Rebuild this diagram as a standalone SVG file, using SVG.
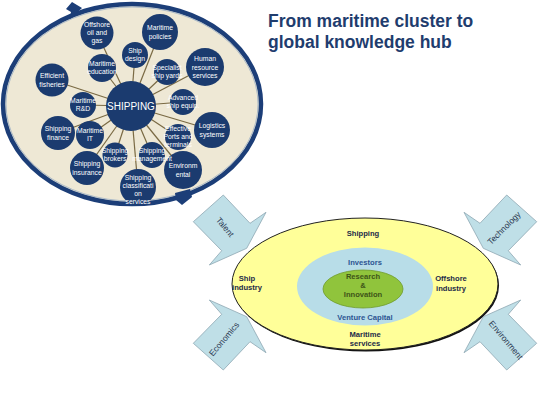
<svg xmlns="http://www.w3.org/2000/svg" width="538" height="407" viewBox="0 0 538 407">
<defs>
<style>
.bub{fill:#1b3b6f}
.bt{fill:#ffffff;font-family:"Liberation Sans",Arial,sans-serif;font-size:6.8px;text-anchor:middle}
.spoke{stroke:#7a6a44;stroke-width:1.2}
.arr{fill:#bfdfe7;stroke:#8ea7b3;stroke-width:0.8}
.at{fill:#2c3a52;font-family:"Liberation Sans",Arial,sans-serif;font-size:8.5px;text-anchor:middle}
.rt{font-family:"Liberation Sans",Arial,sans-serif;font-size:7.6px;font-weight:bold;text-anchor:middle}
</style>
<polygon id="arrowShape" points="193.3,221.7 223.3,195 250,223.3 266,212.3 246.7,248.3 209.3,265 221.7,250.7"/>
</defs>
<rect width="538" height="407" fill="#ffffff"/>

<!-- title -->
<g id="title" fill="#1f3d6e" font-family="Liberation Sans,Arial,sans-serif" font-size="17.5" font-weight="bold">
<text x="268" y="27">From maritime cluster to</text>
<text x="268" y="48">global knowledge hub</text>
</g>

<!-- left cluster ellipse -->
<g id="cluster">
<ellipse cx="132" cy="104" rx="129" ry="100" fill="#eee8d5" stroke="#1c3e78" stroke-width="4.5"/>
<ellipse cx="132" cy="104" rx="126" ry="97" fill="none" stroke="#7f9cc0" stroke-width="0.6"/>
<polygon points="66,9 72,2 82,8 70,19 71,12" fill="#1c3e78"/>
<polygon points="175,193 190,189 192,197 182,205 176,200" fill="#1c3e78"/>
</g>

<g id="connectors">
<line class="spoke" x1="131" y1="106" x2="97" y2="33"/>
<line class="spoke" x1="131" y1="106" x2="160" y2="32"/>
<line class="spoke" x1="131" y1="106" x2="135" y2="55"/>
<line class="spoke" x1="131" y1="106" x2="102" y2="68"/>
<line class="spoke" x1="131" y1="106" x2="52" y2="80"/>
<line class="spoke" x1="131" y1="106" x2="205" y2="67"/>
<line class="spoke" x1="131" y1="106" x2="167" y2="72"/>
<line class="spoke" x1="131" y1="106" x2="183" y2="102"/>
<line class="spoke" x1="131" y1="106" x2="212" y2="130"/>
<line class="spoke" x1="131" y1="106" x2="178" y2="137"/>
<line class="spoke" x1="131" y1="106" x2="183" y2="170"/>
<line class="spoke" x1="131" y1="106" x2="152" y2="155"/>
<line class="spoke" x1="131" y1="106" x2="138" y2="187"/>
<line class="spoke" x1="131" y1="106" x2="115" y2="155"/>
<line class="spoke" x1="131" y1="106" x2="87" y2="168"/>
<line class="spoke" x1="131" y1="106" x2="90" y2="135"/>
<line class="spoke" x1="131" y1="106" x2="58" y2="133"/>
<line class="spoke" x1="131" y1="106" x2="83" y2="105"/>
</g>

<g id="n-offshore"><circle class="bub" cx="97" cy="33" r="16.5"/><text class="bt" x="97" y="27">Offshore</text><text class="bt" x="97" y="35">oil and</text><text class="bt" x="97" y="43">gas</text></g>
<g id="n-policies"><circle class="bub" cx="160" cy="32" r="18"/><text class="bt" x="160" y="30">Maritime</text><text class="bt" x="160" y="38.5">policies</text></g>
<g id="n-shipdesign"><circle class="bub" cx="135" cy="55" r="13"/><text class="bt" x="135" y="53">Ship</text><text class="bt" x="135" y="61">design</text></g>
<g id="n-education"><circle class="bub" cx="102" cy="68" r="14"/><text class="bt" x="102" y="66">Maritime</text><text class="bt" x="102" y="74">education</text></g>
<g id="n-fisheries"><circle class="bub" cx="52" cy="80" r="16.5"/><text class="bt" x="52" y="78">Efficient</text><text class="bt" x="52" y="86.5">fisheries</text></g>
<g id="n-hr"><circle class="bub" cx="205" cy="67" r="19"/><text class="bt" x="205" y="61">Human</text><text class="bt" x="205" y="69.5">resource</text><text class="bt" x="205" y="78">services</text></g>
<g id="n-yards"><circle class="bub" cx="167" cy="72" r="13"/><text class="bt" x="167" y="70">Specialist</text><text class="bt" x="167" y="78">ship yards</text></g>
<g id="n-equipment"><circle class="bub" cx="183" cy="102" r="13"/><text class="bt" x="183" y="100">Advanced</text><text class="bt" x="183" y="108">ship equip.</text></g>
<g id="n-logistics"><circle class="bub" cx="212" cy="130" r="18"/><text class="bt" x="212" y="128">Logistics</text><text class="bt" x="212" y="136.5">systems</text></g>
<g id="n-ports"><circle class="bub" cx="178" cy="137" r="13"/><text class="bt" x="178" y="131">Effective</text><text class="bt" x="178" y="139">Ports and</text><text class="bt" x="178" y="147">terminals</text></g>
<g id="n-environmental"><circle class="bub" cx="183" cy="170" r="19"/><text class="bt" x="183" y="168">Environm</text><text class="bt" x="183" y="176.5">ental</text></g>
<g id="n-management"><circle class="bub" cx="152" cy="155" r="13"/><text class="bt" x="152" y="153">Shipping</text><text class="bt" x="152" y="161">management</text></g>
<g id="n-classification"><circle class="bub" cx="138" cy="187" r="18"/><text class="bt" x="138" y="180">Shipping</text><text class="bt" x="138" y="188">classificati</text><text class="bt" x="138" y="196">on</text><text class="bt" x="138" y="204">services</text></g>
<g id="n-brokers"><circle class="bub" cx="115" cy="155" r="12.5"/><text class="bt" x="115" y="153">Shipping</text><text class="bt" x="115" y="161">brokers</text></g>
<g id="n-insurance"><circle class="bub" cx="87" cy="168" r="17"/><text class="bt" x="87" y="166">Shipping</text><text class="bt" x="87" y="174.5">insurance</text></g>
<g id="n-it"><circle class="bub" cx="90" cy="135" r="14"/><text class="bt" x="90" y="133">Maritime</text><text class="bt" x="90" y="141">IT</text></g>
<g id="n-finance"><circle class="bub" cx="58" cy="133" r="17"/><text class="bt" x="58" y="131">Shipping</text><text class="bt" x="58" y="139.5">finance</text></g>
<g id="n-rd"><circle class="bub" cx="83" cy="105" r="13"/><text class="bt" x="83" y="103">Maritime</text><text class="bt" x="83" y="111">R&amp;D</text></g>
<g id="n-shipping"><circle class="bub" cx="131" cy="106" r="25"/><text x="131" y="109.5" fill="#ffffff" font-family="Liberation Sans,Arial,sans-serif" font-size="10" text-anchor="middle">SHIPPING</text></g>

<!-- knowledge hub -->
<g id="hub">
<ellipse cx="366" cy="285.5" rx="133" ry="66" fill="#111111"/>
<ellipse cx="365" cy="284" rx="133" ry="66" fill="#ffff99" stroke="#222222" stroke-width="1"/>
<ellipse cx="365" cy="286.5" rx="68" ry="39" fill="#b8dde8"/>
<ellipse cx="363" cy="289" rx="40" ry="19" fill="#90c43c" stroke="#6f9a2a" stroke-width="0.8"/>
<text class="rt" x="363" y="236" fill="#1d2a48">Shipping</text>
<text class="rt" x="365" y="265" fill="#2d5592">Investors</text>
<text class="rt" x="363" y="279" fill="#3e5418">Research</text>
<text class="rt" x="363" y="288" fill="#3e5418">&amp;</text>
<text class="rt" x="363" y="297" fill="#3e5418">Innovation</text>
<text class="rt" x="365" y="320" fill="#2d5592">Venture Capital</text>
<text class="rt" x="365" y="337" fill="#1d2a48">Maritime</text>
<text class="rt" x="365" y="346" fill="#1d2a48">services</text>
<text class="rt" x="247" y="281" fill="#1d2a48" text-anchor="start">Ship</text>
<text class="rt" x="247" y="290" fill="#1d2a48" text-anchor="start">industry</text>
<text class="rt" x="451" y="281" fill="#1d2a48" text-anchor="start">Offshore</text>
<text class="rt" x="451" y="291" fill="#1d2a48" text-anchor="start">industry</text>
</g>

<g id="a-talent"><use href="#arrowShape" class="arr"/><text class="at" transform="translate(225,227) rotate(50)" y="3">Talent</text></g>
<g id="a-technology"><use href="#arrowShape" class="arr" transform="matrix(-1,0,0,1,730,0)"/><text class="at" transform="translate(504,228) rotate(-45)" y="3">Technology</text></g>
<g id="a-economics"><use href="#arrowShape" class="arr" transform="matrix(1,0,0,-1,0,565)"/><text class="at" transform="translate(224,339) rotate(-50)" y="3">Economics</text></g>
<g id="a-environment"><use href="#arrowShape" class="arr" transform="matrix(-1,0,0,-1,730,565)"/><text class="at" transform="translate(506,340) rotate(50)" y="3">Environment</text></g>
</svg>
